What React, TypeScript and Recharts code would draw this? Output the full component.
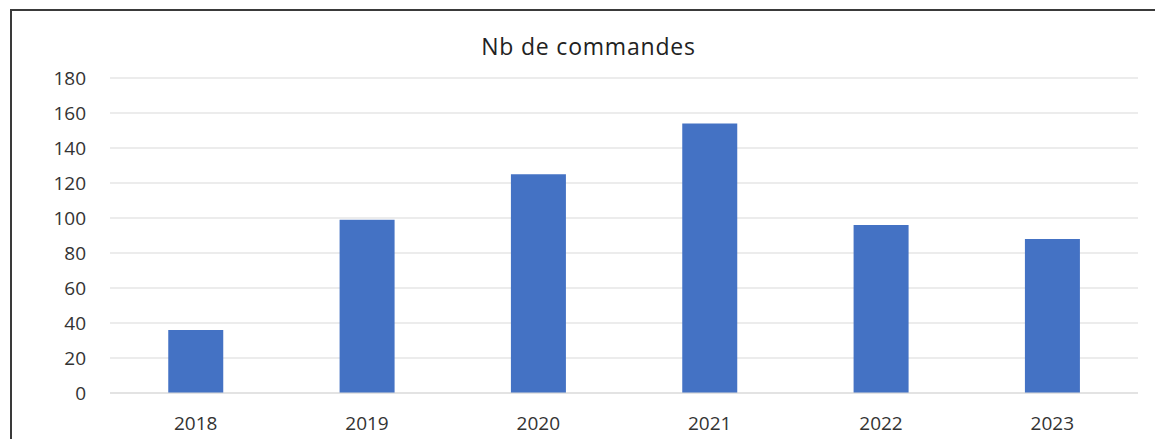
import React from "react";
import { BarChart, Bar, XAxis, YAxis, CartesianGrid } from "recharts";

const categories = ["2018", "2019", "2020", "2021", "2022", "2023"];
const orders = [36, 99, 125, 154, 96, 88];
const yTicks = [0, 20, 40, 60, 80, 100, 120, 140, 160, 180];
const title = "Nb de commandes";

const data = categories.map((c, i) => ({ year: c, value: orders[i] }));

const FONT = "'Open Sans', 'Liberation Sans', sans-serif";

export default function App() {
  return (
    <div
      style={{
        position: "absolute",
        left: 0,
        top: 0,
        width: 1155,
        height: 439,
        overflow: "hidden",
        background: "#ffffff",
      }}
    >
      <div
        style={{
          position: "absolute",
          left: 10,
          top: 9,
          width: 1200,
          height: 500,
          border: "2px solid #3a3a3a",
          boxSizing: "border-box",
        }}
      />
      <div
        style={{
          position: "absolute",
          left: 0,
          width: 1155,
          top: 30,
          textAlign: "center",
          fontFamily: FONT,
          fontSize: 23,
          letterSpacing: 0.8,
          color: "#222",
          lineHeight: "32px",
          paddingLeft: 22,
          boxSizing: "border-box",
        }}
      >
        {title}
      </div>
      <div style={{ position: "absolute", left: 0, top: 0 }}>
        <BarChart
          width={1155}
          height={439}
          data={data}
          margin={{ top: 78, right: 17, bottom: 16, left: 0 }}
          barCategoryGap="34%"
        >
          <CartesianGrid vertical={false} stroke="#d9d9d9" strokeWidth={1.2} />
          <XAxis
            dataKey="year"
            height={30}
            tickSize={0}
            tickMargin={24}
            axisLine={{ stroke: "#d9d9d9", strokeWidth: 1.2 }}
            tickLine={false}
            tick={{ fill: "#333", fontSize: 19, fontFamily: FONT }}
          />
          <YAxis
            width={110}
            domain={[0, 180]}
            ticks={yTicks}
            interval={0}
            tickSize={0}
            tickMargin={24}
            axisLine={false}
            tickLine={false}
            tick={{ fill: "#333", fontSize: 19, fontFamily: FONT }}
          />
          <Bar dataKey="value" fill="#4472C4" isAnimationActive={false} />
        </BarChart>
      </div>
    </div>
  );
}
